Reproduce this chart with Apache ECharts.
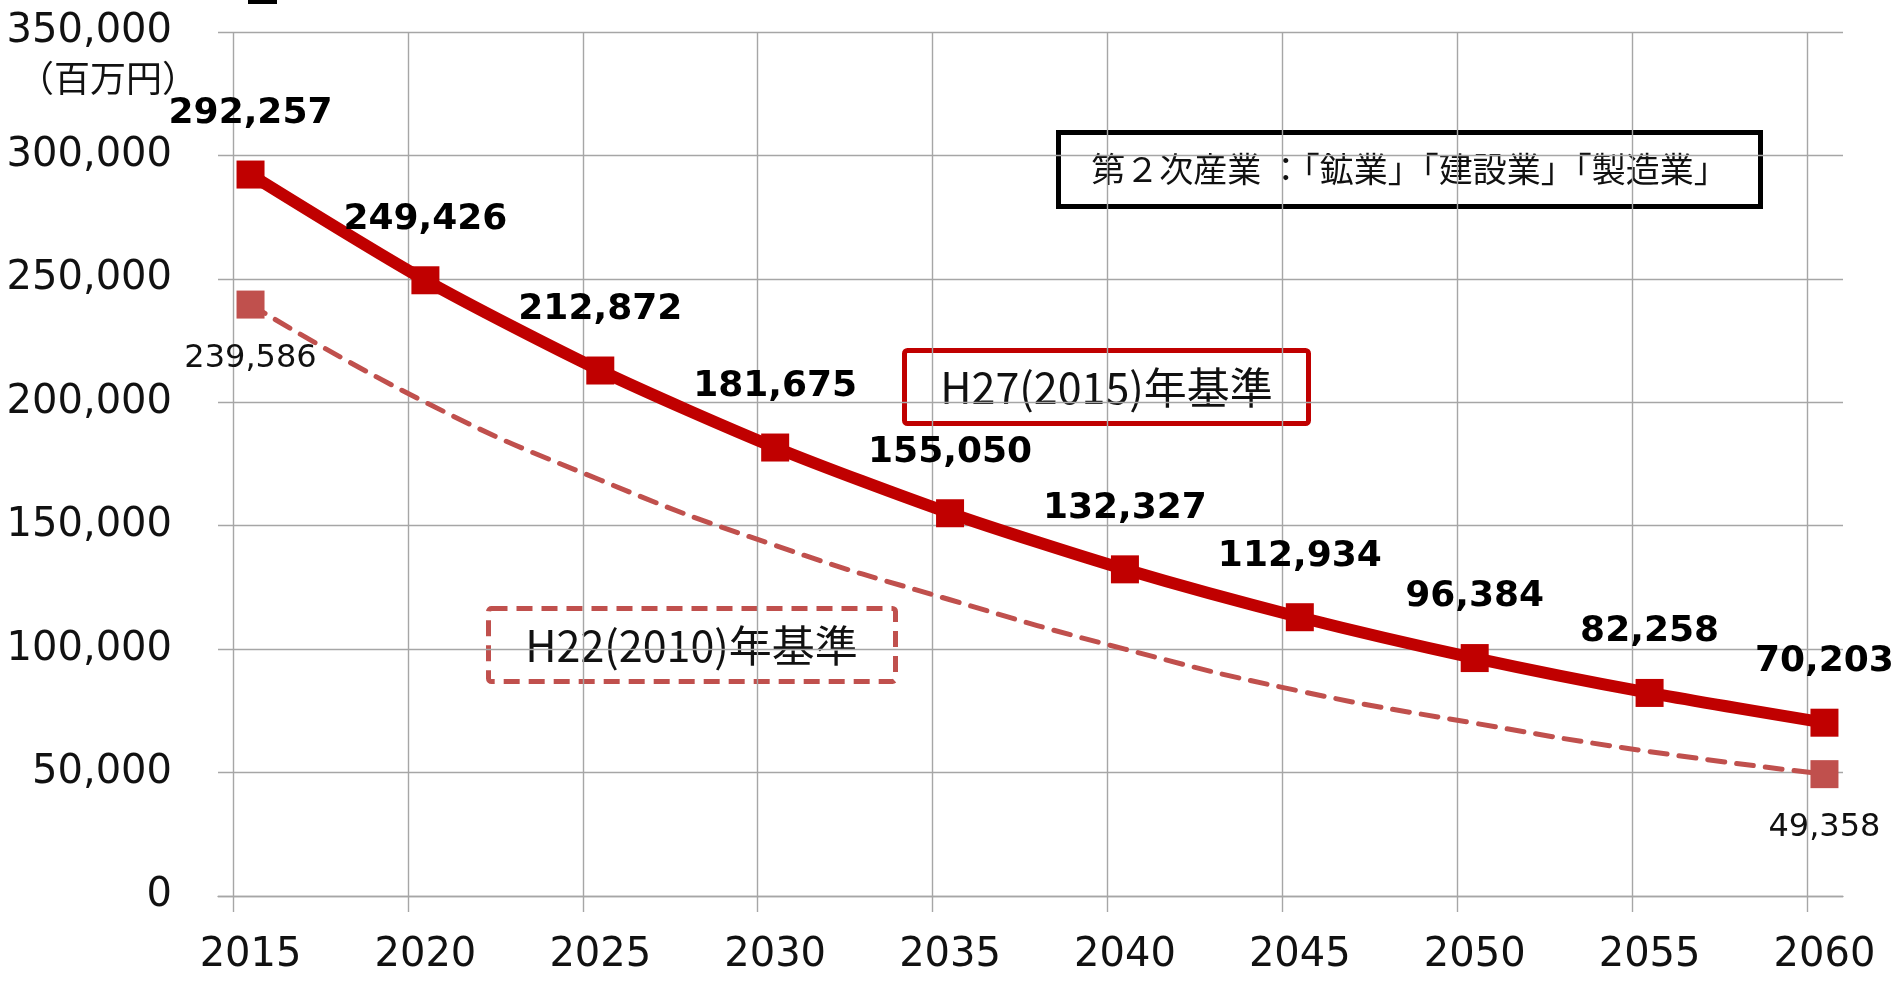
<!DOCTYPE html>
<html>
<head>
<meta charset="utf-8">
<script src="https://cdn.jsdelivr.net/npm/echarts@6/dist/echarts.min.js"></script>
<style>
  html, body { margin: 0; padding: 0; background: #fff; }
  #main { width: 1893px; height: 988px; }
</style>
</head>
<body>
<div id="main"></div>
<script>
// 年次
var years = [2015, 2020, 2025, 2030, 2035, 2040, 2045, 2050, 2055, 2060]
// H27(2015)年基準
var h27Values = [292257, 249426, 212872, 181675, 155050, 132327, 112934, 96384, 82258, 70203]
// H22(2010)年基準 (中間は図から読み取り)
var h22Values = [239586, 200000, 168500, 142000, 120000, 100000, 83000, 70000, 58500, 49358]
// 縦グリッド線の位置 (データ点の半年左)
var gridYears = [2014.5, 2019.5, 2024.5, 2029.5, 2034.5, 2039.5, 2044.5, 2049.5, 2054.5, 2059.5]

var fmt = function(v) {
  return Number(v).toLocaleString('en-US')
}

var last = years.length - 1
var h27Data = years.map(function(y, i) { return [y, h27Values[i]] })
var h22Data = years.map(function(y, i) {
  var ends = i === 0 || i === last
  return {
    value: [y, h22Values[i]],
    symbol: ends ? 'rect' : 'none',
    label: { show: ends }
  }
})

var gridColor = '#a6a6a6'

var option = {
  animation: false,
  backgroundColor: '#fff',
  grid: {
    left: 218,
    right: 50,
    top: 32,
    bottom: 92,
    containLabel: false,
    outerBoundsMode: 'none'
  },
  xAxis: {
    type: 'value',
    min: 2014.07,
    max: 2060.53,
    axisLine: { show: true, lineStyle: { color: gridColor, width: 1.4 } },
    axisTick: {
      show: true,
      customValues: gridYears,
      length: 16,
      lineStyle: { color: gridColor, width: 1.4 }
    },
    splitLine: { show: true, lineStyle: { color: gridColor, width: 1.4 } },
    axisLabel: {
      customValues: years,
      margin: 40,
      color: '#111',
      fontSize: 40,
      fontFamily: 'DejaVu Sans',
      formatter: function(v) { return String(v) }
    }
  },
  yAxis: {
    type: 'value',
    min: 0,
    max: 350000,
    interval: 50000,
    axisLine: { show: false },
    axisTick: { show: false },
    splitLine: { show: true, lineStyle: { color: gridColor, width: 1.4 } },
    axisLabel: {
      margin: 46,
      color: '#111',
      fontSize: 40,
      fontFamily: 'DejaVu Sans',
      padding: [0, 0, 16, 0],
      formatter: fmt
    }
  },
  series: [
    {
      name: 'H22(2010)年基準',
      type: 'line',
      data: h22Data,
      smooth: 0.5,
      symbol: 'rect',
      symbolSize: 28,
      z: 2,
      lineStyle: { color: '#C0504D', width: 5, type: [17, 12], cap: 'round' },
      itemStyle: { color: '#C0504D' },
      label: {
        position: 'bottom',
        distance: 24,
        color: '#111',
        fontSize: 32,
        fontFamily: 'DejaVu Sans',
        formatter: function(p) { return fmt(p.value[1]) }
      }
    },
    {
      name: 'H27(2015)年基準',
      type: 'line',
      data: h27Data,
      smooth: 0.25,
      symbol: 'rect',
      symbolSize: 28,
      z: 3,
      lineStyle: { color: '#C00000', width: 12 },
      itemStyle: { color: '#C00000' },
      label: {
        show: true,
        position: 'top',
        distance: 29,
        color: '#000',
        fontSize: 36,
        fontWeight: 'bold',
        fontFamily: 'DejaVu Sans',
        formatter: function(p) { return fmt(p.value[1]) }
      }
    }
  ],
  graphic: [
    { type: 'rect', left: 248, top: 0, shape: { width: 29, height: 4 }, style: { fill: '#000' } },
    {
      type: 'text', x: 108, y: 78,
      style: {
        text: '（百万円）', fill: '#111', fontSize: 36,
        fontFamily: 'Noto Sans CJK JP', align: 'center', verticalAlign: 'middle'
      }
    },
    {
      type: 'group', left: 1056, top: 130,
      children: [
        { type: 'rect', shape: { x: 2, y: 2, width: 702, height: 74 },
          style: { fill: '#fff', stroke: '#000', lineWidth: 5 } },
        { type: 'text', x: 353, y: 39,
          style: {
            text: '第２次産業 ：「鉱業」「建設業」「製造業」', fill: '#111', fontSize: 34,
            fontFamily: 'Noto Sans CJK JP', align: 'center', verticalAlign: 'middle'
          } }
      ]
    },
    {
      type: 'group', left: 902, top: 348,
      children: [
        { type: 'rect', shape: { x: 2, y: 2, width: 404, height: 73, r: 3 },
          style: { fill: '#fff', stroke: '#C00000', lineWidth: 5 } },
        { type: 'text', x: 204, y: 39,
          style: {
            text: 'H27(2015)年基準', fill: '#111', fontSize: 43,
            fontFamily: 'Noto Sans CJK JP', align: 'center', verticalAlign: 'middle'
          } }
      ]
    },
    {
      type: 'group', left: 486, top: 606,
      children: [
        { type: 'rect', shape: { x: 2, y: 2, width: 407, height: 73, r: 3 },
          style: { fill: '#fff', stroke: '#C0504D', lineWidth: 5, lineDash: [16, 9] } },
        { type: 'text', x: 205, y: 39,
          style: {
            text: 'H22(2010)年基準', fill: '#111', fontSize: 43,
            fontFamily: 'Noto Sans CJK JP', align: 'center', verticalAlign: 'middle'
          } }
      ]
    }
  ]
}

var myChart = echarts.init(document.getElementById('main'))
myChart.setOption(option)
window.addEventListener('resize', function() {
  myChart.resize()
})
</script>
</body>
</html>
